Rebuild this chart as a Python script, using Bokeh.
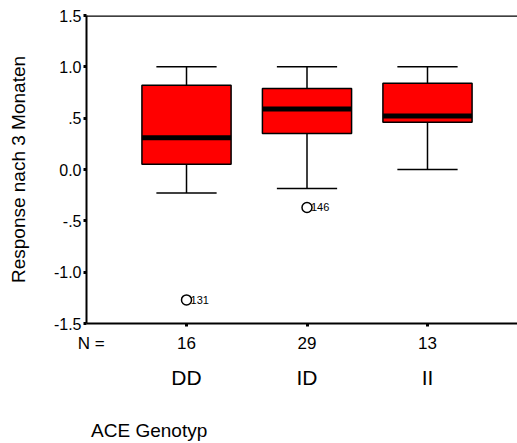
from bokeh.plotting import figure
from bokeh.models import Range1d, LinearAxis, FixedTicker, Span, ColumnDataSource
from bokeh.embed import file_html
from bokeh.resources import INLINE
from bokeh.core.properties import value

# ---- data ----
groups = ["DD", "ID", "II"]
n_counts = [16, 29, 13]
pos = [1, 2, 3]
q1 = [0.05, 0.35, 0.46]
median = [0.31, 0.59, 0.52]
q3 = [0.82, 0.79, 0.84]
lower = [-0.23, -0.185, 0.0]
upper = [1.0, 1.0, 1.0]
out_pos = [1, 2]
out_val = [-1.27, -0.37]
out_lab = ["131", "146"]
yticks = [-1.5, -1.0, -0.5, 0.0, 0.5, 1.0, 1.5]
ytick_labels = ["-1.5", "-1.0", "-.5", "0.0", ".5", "1.0", "1.5"]
n_label = "N ="
n_label_x = 0.21
x_title = "ACE Genotyp"
x_title_x = 0.69
y_title = "Response nach 3 Monaten"

FONT = "Liberation Sans"
BOXW = 0.74
CAPW = 0.5

p = figure(width=517, height=443, output_backend="svg", toolbar_location=None,
           x_range=Range1d(0.17, 3.747), y_range=Range1d(-1.5, 1.5),
           x_axis_type=None, y_axis_type=None,
           min_border_left=86, min_border_right=0, min_border_top=15,
           min_border_bottom=10)
p.outline_line_color = None
p.grid.visible = False
p.background_fill_color = "white"
p.border_fill_color = "white"

src = ColumnDataSource(dict(pos=pos, q1=q1, med=median, q3=q3, lo=lower, hi=upper,
                            l=[x - BOXW / 2 for x in pos], r=[x + BOXW / 2 for x in pos],
                            cl=[x - CAPW / 2 for x in pos], cr=[x + CAPW / 2 for x in pos]))

# whiskers
p.segment(x0="pos", y0="q3", x1="pos", y1="hi", source=src, line_color="black", line_width=1.5)
p.segment(x0="pos", y0="q1", x1="pos", y1="lo", source=src, line_color="black", line_width=1.5)
p.segment(x0="cl", y0="hi", x1="cr", y1="hi", source=src, line_color="black", line_width=1.5)
p.segment(x0="cl", y0="lo", x1="cr", y1="lo", source=src, line_color="black", line_width=1.5)
# boxes
p.vbar(x="pos", width=BOXW, bottom="q1", top="q3", source=src,
       fill_color="#ff0000", line_color="black", line_width=1.5)
# medians
p.segment(x0="l", y0="med", x1="r", y1="med", source=src, line_color="black", line_width=5)

# outliers
osrc = ColumnDataSource(dict(x=out_pos, y=out_val, lab=out_lab))
p.scatter(x="x", y="y", source=osrc, marker="circle", size=10,
          fill_color="white", line_color="black", line_width=1.5)
p.text(x="x", y="y", text="lab", source=osrc, x_offset=4, text_baseline="middle",
       text_font=value(FONT), text_font_size="11px", text_color="black")

# top frame line
p.add_layout(Span(location=1.5, dimension="width", line_color="black", line_width=2.5))

# y axis
yax = LinearAxis(ticker=FixedTicker(ticks=yticks),
                 major_label_overrides={t: s for t, s in zip(yticks, ytick_labels)})
yax.axis_label = y_title
yax.axis_label_text_font = FONT
yax.axis_label_text_font_style = "normal"
yax.axis_label_text_font_size = "19px"
yax.axis_label_text_color = "black"
yax.axis_label_standoff = 22
yax.major_label_text_font = FONT
yax.major_label_text_font_size = "16px"
yax.major_label_text_color = "black"
yax.major_label_standoff = 2
yax.major_tick_in = 0
yax.major_tick_out = 3
yax.major_tick_line_width = 3
yax.major_tick_line_color = "black"
yax.minor_tick_line_color = None
yax.axis_line_width = 2
yax.axis_line_color = "black"
p.add_layout(yax, "left")

# bottom axis with counts (tick marks via minor ticks at the categories)
cticks = [n_label_x] + pos
clabels = [n_label] + [str(n) for n in n_counts]
xax = LinearAxis(ticker=FixedTicker(ticks=cticks, minor_ticks=pos),
                 major_label_overrides={x: s for x, s in zip(cticks, clabels)})
xax.major_label_text_font = FONT
xax.major_label_text_font_size = "17px"
xax.major_label_text_color = "black"
xax.major_label_text_line_height = 1.0
xax.major_label_standoff = 7
xax.major_tick_line_color = None
xax.major_tick_in = 0
xax.major_tick_out = 3
xax.minor_tick_in = 0
xax.minor_tick_out = 3
xax.minor_tick_line_width = 3
xax.minor_tick_line_color = "black"
xax.axis_line_width = 2
xax.axis_line_color = "black"
p.add_layout(xax, "below")

# group names
gax = LinearAxis(ticker=FixedTicker(ticks=pos, minor_ticks=[]),
                 major_label_overrides={x: g for x, g in zip(pos, groups)})
gax.major_label_text_font = FONT
gax.major_label_text_font_size = "21px"
gax.major_label_text_color = "black"
gax.major_label_text_line_height = 1.0
gax.major_label_standoff = 4
gax.major_tick_line_color = None
gax.minor_tick_line_color = None
gax.axis_line_color = None
p.add_layout(gax, "below")

# x title
tax = LinearAxis(ticker=FixedTicker(ticks=[x_title_x], minor_ticks=[]),
                 major_label_overrides={x_title_x: x_title})
tax.major_label_text_font = FONT
tax.major_label_text_font_size = "19px"
tax.major_label_text_color = "black"
tax.major_label_text_line_height = 1.0
tax.major_label_standoff = 22
tax.major_tick_line_color = None
tax.minor_tick_line_color = None
tax.axis_line_color = None
p.add_layout(tax, "below")

open("out.html", "w").write(file_html(p, INLINE))
